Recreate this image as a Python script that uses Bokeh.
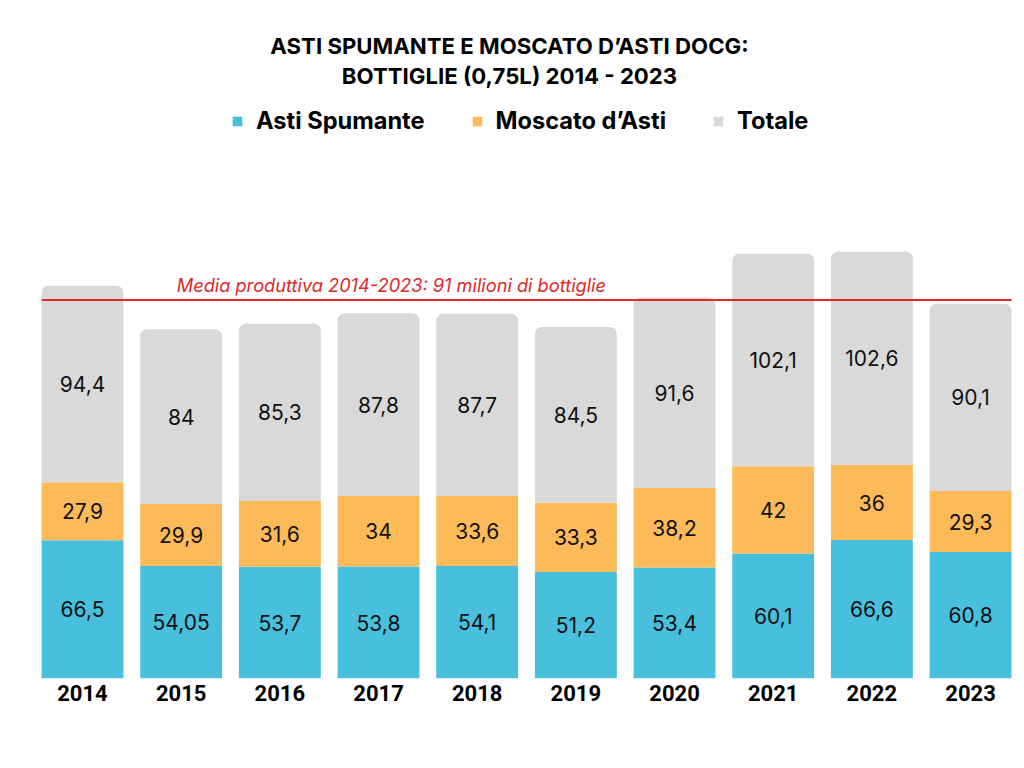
from bokeh.plotting import figure
from bokeh.models import Range1d, ColumnDataSource, Label, Legend, LegendItem, FixedTicker
from bokeh.core.properties import value
from bokeh.embed import file_html
from bokeh.resources import INLINE

# ---------------- data ----------------
years = ["2014", "2015", "2016", "2017", "2018", "2019", "2020", "2021", "2022", "2023"]
asti_spumante = [66.5, 54.05, 53.7, 53.8, 54.1, 51.2, 53.4, 60.1, 66.6, 60.8]
moscato_dasti = [27.9, 29.9, 31.6, 34.0, 33.6, 33.3, 38.2, 42.0, 36.0, 29.3]
totale = [94.4, 84.0, 85.3, 87.8, 87.7, 84.5, 91.6, 102.1, 102.6, 90.1]
media = 91
series_names = ["Asti Spumante", "Moscato d\u2019Asti", "Totale"]
title_lines = ["ASTI SPUMANTE E MOSCATO D\u2019ASTI DOCG:", "BOTTIGLIE (0,75L) 2014 - 2023"]
media_label = "Media produttiva 2014-2023: 91 milioni di bottiglie"

# ---------------- style ----------------
C_BLUE = "#48BFDD"
C_ORANGE = "#FDBA58"
C_GRAY = "#D9D9D9"
C_RED = "#E0282A"
W, H = 1016, 760
FRAME_H = 678
PX_PER_X = 98.67
FIRST_CENTER = 82
PX_PER_Y = 2.08
BAR_W = 0.83
BOLD_FONT = "Inter"
YEAR_FONT = "Roboto"
NUM_FONT = "Inter"

def fmt(v):
    return f"{v:g}".replace(".", ",")

idx = list(range(len(years)))

p = figure(width=W, height=H, output_backend="svg", toolbar_location=None,
           x_range=Range1d(-FIRST_CENTER / PX_PER_X, (W - FIRST_CENTER) / PX_PER_X),
           y_range=Range1d(0, FRAME_H / PX_PER_Y),
           min_border_left=0, min_border_right=0, min_border_top=0,
           min_border_bottom=H - FRAME_H)
p.outline_line_color = None
p.grid.visible = False
p.yaxis.visible = False
p.background_fill_color = "white"
p.border_fill_color = "white"

bottoms_m = asti_spumante
tops_m = [a + m for a, m in zip(asti_spumante, moscato_dasti)]
tops_t = [b + t for b, t in zip(tops_m, totale)]
src = ColumnDataSource(dict(x=idx, a=asti_spumante, b=bottoms_m, tm=tops_m, tt=tops_t))
r_a = p.vbar(x="x", top="a", bottom=0, width=BAR_W, source=src,
             fill_color=C_BLUE, line_color=None)
r_m = p.vbar(x="x", top="tm", bottom="b", width=BAR_W, source=src,
             fill_color=C_ORANGE, line_color=None)
r_t = p.vbar(x="x", top="tt", bottom="tm", width=BAR_W, source=src,
             fill_color=C_GRAY, line_color=None, border_radius=(7, 7, 0, 0))

# value labels (centre of each segment)
lab_x, lab_y, lab_t = [], [], []
for i in idx:
    segs = [(0, asti_spumante[i]), (bottoms_m[i], moscato_dasti[i]), (tops_m[i], totale[i])]
    for b, v in segs:
        lab_x.append(i)
        lab_y.append(b + v / 2)
        lab_t.append(fmt(v))
lsrc = ColumnDataSource(dict(x=lab_x, y=lab_y, t=lab_t))
p.text(x="x", y="y", text="t", source=lsrc, text_align="center", text_baseline="middle",
       text_font=value(NUM_FONT), text_font_size="21px", text_color="#111111")

# average line (average total shown at stacked scale = 2x)
ly = 2 * media
p.segment(x0=[idx[0] - BAR_W / 2], x1=[idx[-1] + BAR_W / 2], y0=[ly], y1=[ly],
          line_color=C_RED, line_width=2)
p.add_layout(Label(x=0.955, y=ly + 2, text=media_label, text_font=NUM_FONT,
                   text_font_style="italic", text_font_size="18.2px", text_color=C_RED,
                   text_baseline="bottom", text_align="left"))

# title (screen coords from frame bottom-left)
for k, line in enumerate(title_lines):
    p.add_layout(Label(x=509, y=FRAME_H - (45 + 30 * k), x_units="screen", y_units="screen",
                       text=line, text_font=BOLD_FONT, text_font_style="bold",
                       text_font_size="22.2px", text_color="#000000",
                       text_align="center", text_baseline="middle"))

# legend
legend = Legend(items=[LegendItem(label=series_names[0], renderers=[r_a]),
                       LegendItem(label=series_names[1], renderers=[r_m]),
                       LegendItem(label=series_names[2], renderers=[r_t])],
                orientation="horizontal", location=(231, FRAME_H - 122 - 13),
                glyph_width=12, glyph_height=12, label_standoff=13, spacing=46,
                label_text_font=BOLD_FONT, label_text_font_style="bold",
                label_text_font_size="23.6px", label_text_color="#000000",
                label_height=26, padding=0, margin=0,
                border_line_color=None, background_fill_alpha=0)
p.add_layout(legend)

# x axis with years
ax = p.xaxis[0]
ax.ticker = FixedTicker(ticks=idx)
ax.major_label_overrides = {i: y for i, y in zip(idx, years)}
ax.axis_line_color = None
ax.major_tick_line_color = None
ax.minor_tick_line_color = None
ax.major_label_standoff = 0
ax.major_label_text_font = YEAR_FONT
ax.major_label_text_font_style = "bold"
ax.major_label_text_font_size = "22px"
ax.major_label_text_color = "#000000"

open("out.html", "w").write(file_html(p, INLINE))
